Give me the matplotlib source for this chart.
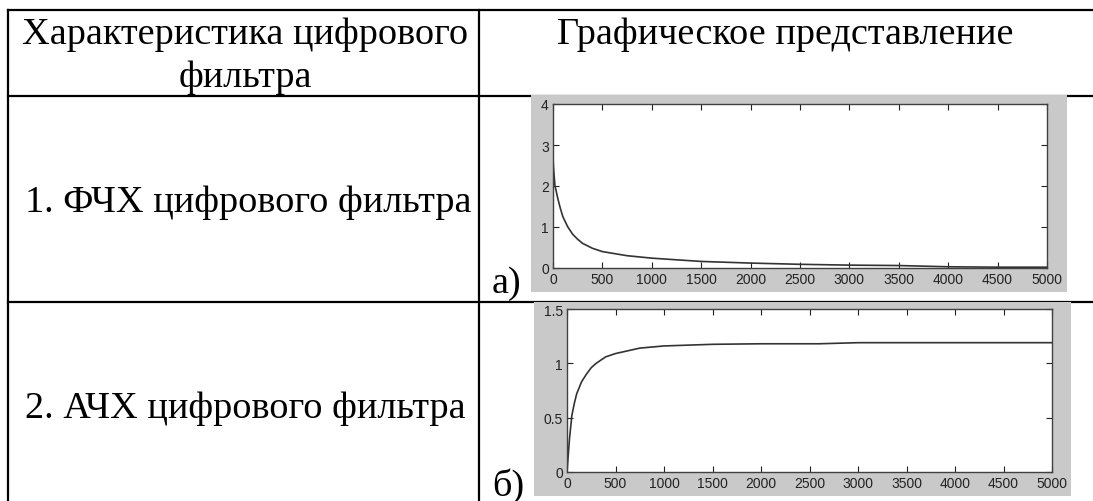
import matplotlib
matplotlib.use("Agg")
import matplotlib.pyplot as plt
from matplotlib.lines import Line2D
from matplotlib.patches import Rectangle

W, H = 1093, 502

# table text
header_left = ["Характеристика цифрового", "фильтра"]
header_right = "Графическое представление"
row_labels = ["1. ФЧХ цифрового фильтра", "2. АЧХ цифрового фильтра"]
panel_marks = ["а)", "б)"]

# phase response (a)
phase_x = [0, 5, 10, 20, 30, 50, 75, 100, 150, 200, 250, 300, 400, 500, 750,
           1000, 1500, 2000, 2500, 3000, 3500, 4000, 4500, 5000]
phase_y = [2.7, 2.45, 2.3, 2.0, 1.9, 1.68, 1.45, 1.25, 1.0, 0.82, 0.7, 0.6,
           0.48, 0.4, 0.3, 0.24, 0.16, 0.12, 0.09, 0.07, 0.06, 0.03, 0.02,
           0.02]

# amplitude response (b)
amp_x = [0, 25, 50, 75, 100, 150, 200, 250, 300, 400, 500, 750, 1000, 1500,
         2000, 2600, 3000, 5000]
amp_y = [0, 0.3, 0.52, 0.63, 0.72, 0.83, 0.9, 0.96, 1.0, 1.06, 1.09, 1.14,
         1.16, 1.175, 1.18, 1.18, 1.19, 1.19]

xticks = [0, 500, 1000, 1500, 2000, 2500, 3000, 3500, 4000, 4500, 5000]

serif = ["Liberation Serif", "DejaVu Serif"]
narrow = ["DejaVu Sans Condensed", "Liberation Sans"]


def fx(px):
    return px / W


def fy(py):
    return 1 - py / H


def box(x0, y0, x1, y1):
    # pixel box -> figure rect
    return [fx(x0), fy(y1), fx(x1) - fx(x0), fy(y0) - fy(y1)]


fig = plt.figure(figsize=(W / 100, H / 100), dpi=100)

# table lines
lw = 1.6
for (xa, ya, xb, yb) in [(8, 11, W, 11), (8, 97, W, 97), (8, 303, W, 303),
                         (8, 11, 8, H), (479, 11, 479, H)]:
    fig.add_artist(Line2D([fx(xa), fx(xb)], [fy(ya), fy(yb)], color="black",
                          lw=lw, transform=fig.transFigure, zorder=1))

fs = 27.5
fig.text(fx(245), fy(44), header_left[0], ha="center", va="baseline",
         fontsize=fs, family=serif)
fig.text(fx(245), fy(87), header_left[1], ha="center", va="baseline",
         fontsize=fs, family=serif)
fig.text(fx(785), fy(44), header_right, ha="center", va="baseline",
         fontsize=fs, family=serif)
fig.text(fx(25), fy(212), row_labels[0], ha="left", va="baseline",
         fontsize=fs, family=serif)
fig.text(fx(25), fy(418), row_labels[1], ha="left", va="baseline",
         fontsize=fs, family=serif)

panels = [
    dict(gray=(531, 96, 1067, 293), ax=(553, 105, 1047, 269), x=phase_x,
         y=phase_y, ylim=(0, 4), yticks=[0, 1, 2, 3, 4],
         ylabels=["0", "1", "2", "3", "4"], pos=(506, 293)),
    dict(gray=(534, 303, 1071, 497), ax=(567, 310, 1052, 473), x=amp_x,
         y=amp_y, ylim=(0, 1.5), yticks=[0, 0.5, 1, 1.5],
         ylabels=["0", "0.5", "1", "1.5"], pos=(508, 496)),
]

for p, label in zip(panels, panel_marks):
    g = p["gray"]
    fig.add_artist(Rectangle((fx(g[0]), fy(g[3])), fx(g[2]) - fx(g[0]),
                             fy(g[1]) - fy(g[3]), facecolor="#c9c9c9",
                             edgecolor="none", transform=fig.transFigure,
                             zorder=2))
    ax = fig.add_axes(box(*p["ax"]), zorder=3)
    ax.plot(p["x"], p["y"], color="#333333", lw=1.2)
    ax.set_xlim(0, 5000)
    ax.set_ylim(*p["ylim"])
    ax.set_xticks(xticks)
    ax.set_xticklabels([str(t) for t in xticks], family=narrow, fontsize=10)
    ax.set_yticks(p["yticks"])
    ax.set_yticklabels(p["ylabels"], family=narrow, fontsize=10)
    ax.tick_params(direction="in", length=4, width=0.8, top=True, right=True,
                   colors="#222222", pad=3)
    for s in ax.spines.values():
        s.set_color("#404040")
        s.set_linewidth(1.0)
    fig.text(fx(p["pos"][0]), fy(p["pos"][1]), label, ha="center",
             va="baseline", fontsize=fs, family=serif, zorder=4)

fig.savefig("out.png", dpi=100)
